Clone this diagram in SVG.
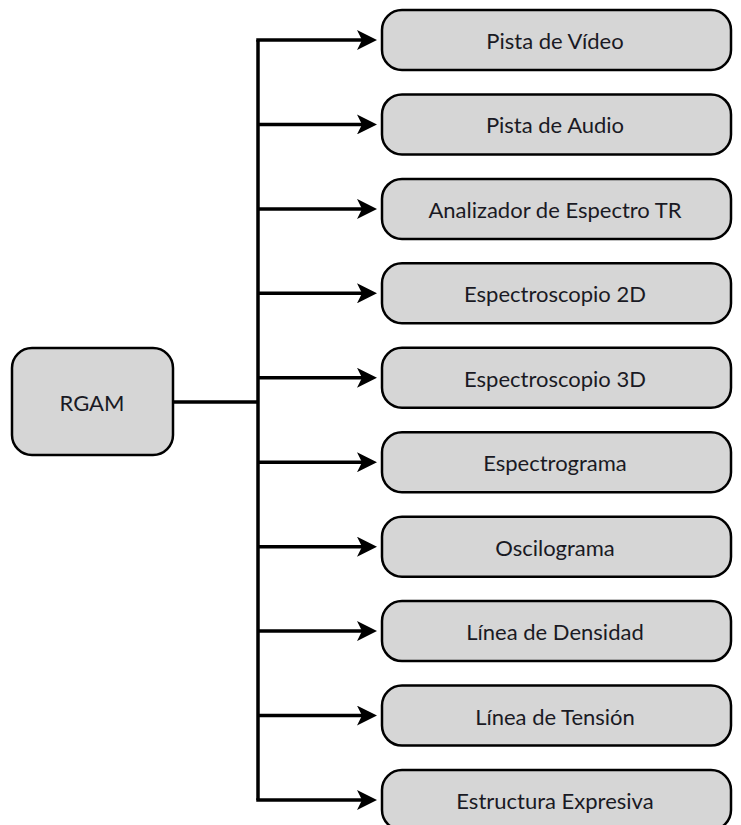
<svg xmlns="http://www.w3.org/2000/svg" width="741" height="825" viewBox="0 0 741 825">
<defs>
<marker id="ah" markerWidth="20" markerHeight="20" refX="8" refY="10" orient="auto" markerUnits="userSpaceOnUse" viewBox="0 0 20 20">
<path d="M0,0 L20,10 L0,20 L5,10 Z" fill="#000"/>
</marker>
<style>
.box{fill:#d6d6d6;stroke:#000;stroke-width:2.5}
.t{font-family:Lato,"Open Sans","Liberation Sans",sans-serif;font-size:22px;fill:#1a1a24;text-anchor:middle}
.c{fill:none;stroke:#000;stroke-width:3.5}
</style>
</defs>
<rect width="741" height="825" fill="#fff"/>
<g id="connectors">
<path class="c" d="M173,402 H258"/>
<path class="c" d="M258,40 V800"/>
<path class="c" d="M256.25,40 H365" marker-end="url(#ah)"/>
<path class="c" d="M258,124.4 H365" marker-end="url(#ah)"/>
<path class="c" d="M258,208.9 H365" marker-end="url(#ah)"/>
<path class="c" d="M258,293.3 H365" marker-end="url(#ah)"/>
<path class="c" d="M258,377.8 H365" marker-end="url(#ah)"/>
<path class="c" d="M258,462.2 H365" marker-end="url(#ah)"/>
<path class="c" d="M258,546.7 H365" marker-end="url(#ah)"/>
<path class="c" d="M258,631.1 H365" marker-end="url(#ah)"/>
<path class="c" d="M258,715.6 H365" marker-end="url(#ah)"/>
<path class="c" d="M256.25,800 H365" marker-end="url(#ah)"/>
</g>
<g id="rgam"><rect class="box" x="12" y="348" width="161" height="107" rx="20"/><text class="t" x="92" y="411">RGAM</text></g>
<g id="n1"><rect class="box" x="382" y="10" width="349" height="60" rx="20"/><text class="t" x="555" y="49">Pista de Vídeo</text></g>
<g id="n2"><rect class="box" x="382" y="94.4" width="349" height="60" rx="20"/><text class="t" x="555" y="133.4">Pista de Audio</text></g>
<g id="n3"><rect class="box" x="382" y="178.9" width="349" height="60" rx="20"/><text class="t" x="555" y="217.9">Analizador de Espectro TR</text></g>
<g id="n4"><rect class="box" x="382" y="263.3" width="349" height="60" rx="20"/><text class="t" x="555" y="302.3">Espectroscopio 2D</text></g>
<g id="n5"><rect class="box" x="382" y="347.8" width="349" height="60" rx="20"/><text class="t" x="555" y="386.8">Espectroscopio 3D</text></g>
<g id="n6"><rect class="box" x="382" y="432.2" width="349" height="60" rx="20"/><text class="t" x="555" y="471.2">Espectrograma</text></g>
<g id="n7"><rect class="box" x="382" y="516.7" width="349" height="60" rx="20"/><text class="t" x="555" y="555.7">Oscilograma</text></g>
<g id="n8"><rect class="box" x="382" y="601.1" width="349" height="60" rx="20"/><text class="t" x="555" y="640.1">Línea de Densidad</text></g>
<g id="n9"><rect class="box" x="382" y="685.6" width="349" height="60" rx="20"/><text class="t" x="555" y="724.6">Línea de Tensión</text></g>
<g id="n10"><rect class="box" x="382" y="770" width="349" height="60" rx="20"/><text class="t" x="555" y="809">Estructura Expresiva</text></g>
</svg>
